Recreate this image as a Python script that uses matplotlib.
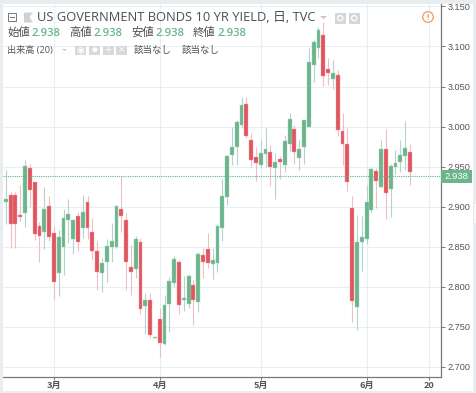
import numpy as np
import matplotlib
matplotlib.use("Agg")
import matplotlib.pyplot as plt
from matplotlib.patches import Rectangle, Circle, Polygon

plt.rcParams['font.family'] = ['Open Sans', 'Noto Sans CJK JP', 'DejaVu Sans']

opens = [2.906, 2.915, 2.915, 2.890, 2.892, 2.948, 2.931, 2.876, 2.868, 2.901,
         2.867, 2.817, 2.850, 2.884, 2.860, 2.889, 2.873, 2.906, 2.869, 2.845,
         2.817, 2.831, 2.850, 2.850, 2.897, 2.884, 2.825, 2.822, 2.856, 2.776,
         2.784, 2.736, 2.760, 2.729, 2.779, 2.805, 2.831, 2.784, 2.779, 2.802,
         2.781, 2.840, 2.847, 2.828, 2.830, 2.873, 2.912, 2.965, 2.975, 3.002,
         3.028, 2.983, 2.962, 2.952, 2.966, 2.968, 2.948, 2.959, 2.952, 2.978,
         2.997, 2.961, 2.975, 3.000, 3.077, 3.098, 3.114, 3.072, 3.060, 3.065,
         2.995, 2.978, 2.899, 2.775, 2.856, 2.860, 2.896, 2.945, 2.924, 2.972,
         2.922, 2.949, 2.956, 2.963, 2.968]
closes = [2.910, 2.878, 2.878, 2.887, 2.951, 2.921, 2.866, 2.864, 2.897, 2.862,
          2.806, 2.862, 2.886, 2.891, 2.884, 2.856, 2.893, 2.874, 2.845, 2.819,
          2.830, 2.851, 2.857, 2.901, 2.889, 2.831, 2.818, 2.860, 2.772, 2.784,
          2.740, 2.738, 2.730, 2.777, 2.807, 2.835, 2.777, 2.786, 2.814, 2.783,
          2.841, 2.831, 2.830, 2.834, 2.876, 2.913, 2.963, 2.975, 3.006, 3.027,
          2.988, 2.958, 2.955, 2.967, 2.972, 2.950, 2.956, 2.956, 2.982, 3.010,
          2.968, 2.972, 3.008, 3.080, 3.105, 3.121, 3.063, 3.067, 3.067, 2.996,
          2.978, 2.931, 2.782, 2.856, 2.862, 2.906, 2.947, 2.932, 2.972, 2.917,
          2.951, 2.954, 2.964, 2.973, 2.943]
highs = [2.946, 2.918, 2.918, 2.927, 2.958, 2.953, 2.931, 2.881, 2.925, 2.914,
         2.876, 2.871, 2.897, 2.910, 2.885, 2.893, 2.915, 2.913, 2.886, 2.857,
         2.836, 2.860, 2.880, 2.902, 2.938, 2.892, 2.852, 2.863, 2.861, 2.792,
         2.792, 2.738, 2.773, 2.790, 2.812, 2.839, 2.833, 2.813, 2.816, 2.809,
         2.844, 2.849, 2.867, 2.849, 2.878, 2.935, 2.965, 3.000, 3.008, 3.037,
         3.037, 2.992, 2.974, 2.983, 2.998, 2.977, 2.967, 2.963, 2.990, 3.017,
         3.002, 2.983, 3.008, 3.098, 3.108, 3.124, 3.131, 3.085, 3.083, 3.071,
         3.017, 2.998, 2.913, 2.890, 2.888, 2.927, 2.950, 2.948, 2.983, 2.997,
         2.953, 2.971, 2.983, 3.007, 2.978]
lows = [2.879, 2.848, 2.848, 2.882, 2.875, 2.900, 2.859, 2.831, 2.847, 2.857,
        2.784, 2.789, 2.815, 2.855, 2.841, 2.845, 2.861, 2.860, 2.834, 2.796,
        2.793, 2.806, 2.831, 2.848, 2.868, 2.796, 2.790, 2.811, 2.766, 2.741,
        2.736, 2.736, 2.713, 2.727, 2.744, 2.800, 2.766, 2.770, 2.774, 2.752,
        2.768, 2.811, 2.823, 2.810, 2.819, 2.857, 2.902, 2.952, 2.952, 2.998,
        2.986, 2.950, 2.932, 2.948, 2.950, 2.926, 2.910, 2.935, 2.943, 2.969,
        2.953, 2.946, 2.953, 3.000, 3.056, 3.085, 3.051, 3.052, 3.047, 2.988,
        2.952, 2.920, 2.756, 2.746, 2.820, 2.854, 2.893, 2.898, 2.923, 2.885,
        2.887, 2.941, 2.943, 2.946, 2.927]

month_pos = [10, 32, 53, 75, 88]
month_labels = ['3月', '4月', '5月', '6月', '20']
price_ticks = [2.70, 2.75, 2.80, 2.85, 2.90, 2.95, 3.00, 3.05, 3.10, 3.15]
last_price = 2.938

UP = '#6bb58c'
DOWN = '#e0565f'
UP_WICK = '#b5d3d0'
DOWN_WICK = '#f2bcc3'
GRID = '#e8eff4'
AXCOL = '#77787a'
TXT = '#555555'

fig = plt.figure(figsize=(4.76, 3.93), dpi=100, facecolor='white')
W, H = 476, 393

# main panel
ax = fig.add_axes([3 / W, 1 - 377 / H, 438 / W, 373 / H])
ax.set_xlim(-0.58, 90.47)
ax.set_ylim(2.6875, 3.153)
ax.yaxis.tick_right()
ax.set_yticks(price_ticks)
ax.set_yticklabels(['%.3f' % p for p in price_ticks], fontsize=6.6, color=TXT,
                   family=['Liberation Sans'])
ax.set_xticks(month_pos)
ax.set_xticklabels(month_labels, fontsize=6.6, color=TXT, fontweight='bold',
                   family=['Noto Sans CJK JP'])
ax.tick_params(axis='y', length=3, width=0.7, color=AXCOL, pad=2)
ax.tick_params(axis='x', length=2, width=0.7, color=AXCOL, pad=1)
ax.grid(True, color=GRID, lw=0.8)
ax.set_axisbelow(True)
for s in ['top', 'left']:
    ax.spines[s].set_visible(False)
for s in ['right', 'bottom']:
    ax.spines[s].set_color(AXCOL)
    ax.spines[s].set_linewidth(0.9)

x = np.arange(len(opens))
o = np.array(opens)
c = np.array(closes)
up = c >= o
ax.vlines(x[up], np.array(lows)[up], np.array(highs)[up], color=UP_WICK, lw=0.8, zorder=2)
ax.vlines(x[~up], np.array(lows)[~up], np.array(highs)[~up], color=DOWN_WICK, lw=0.8, zorder=2)
bott = np.minimum(o, c)
hgt = np.maximum(np.abs(c - o), 0.001)
ax.bar(x[up], hgt[up], bottom=bott[up], width=0.8, color=UP, edgecolor='#a6d2ba', lw=0.3, zorder=3)
ax.bar(x[~up], hgt[~up], bottom=bott[~up], width=0.8, color=DOWN, edgecolor='#eea3a9', lw=0.3, zorder=3)
ax.axhline(last_price, color='#62b489', lw=0.8, ls=(0, (1, 1)), zorder=4)

# overlay in pixels for the toolbar and legend
ov = fig.add_axes([0, 0, 1, 1], facecolor='none')
ov.set_xlim(0, W)
ov.set_ylim(H, 0)
ov.axis('off')

STRIP = '#e9edf0'
ov.add_patch(Rectangle((0, 0), 3, H, color=STRIP, lw=0))
ov.add_patch(Rectangle((0, 0), W, 3.5, color=STRIP, lw=0))
ov.add_patch(Rectangle((0, 391), W, 2, color=STRIP, lw=0))
ov.add_patch(Rectangle((472.5, 0), 3.5, H, color=STRIP, lw=0))
ov.add_patch(Rectangle((472.5, 203), 3.5, 20, fc='#f7f8f9', ec='#e3e6e9', lw=0.5))

# last price tag
ov.add_patch(Rectangle((441, 170), 31, 13, color='#6bb58c', lw=0))
ov.text(456.5, 176.5, '2.938', color='white', fontsize=6.8, ha='center', va='center',
        family=['Liberation Sans'])

# title row
ov.add_patch(Rectangle((7.5, 12.5), 8.5, 8.5, fc='none', ec='#777777', lw=0.7))
ov.plot([9.5, 14], [16.8, 16.8], color='#777777', lw=0.7)
ov.add_patch(Polygon([(24, 12.5), (33, 12.5), (29.5, 17), (33, 22.5), (24, 22.5)], color='#cfd1d3', lw=0))
ov.text(37, 17.8, 'US GOVERNMENT BONDS 10 YR YIELD, 日, TVC', fontsize=9.3, color='#4e4e4e',
        va='center', ha='left')
ov.add_patch(Polygon([(320, 16), (327, 16), (323.5, 19)], color='#c4c6c8', lw=0))
for bx in [335, 349]:
    ov.add_patch(Rectangle((bx, 13), 10.5, 10.5, color='#d5d6d8', lw=0))
    ov.add_patch(Circle((bx + 5.2, 18.2), 2.6, fc='none', ec='white', lw=0.9))
ov.add_patch(Circle((428, 17), 5.3, fc='white', ec='#f0a36b', lw=1))
ov.text(428, 17, '!', color='#f0a36b', fontsize=6.5, ha='center', va='center', fontweight='bold')

# OHLC row
ohlc_names = ['始値', '高値', '安値', '終値']
ohlc_x = [7, 69, 131, 193]
for name, px in zip(ohlc_names, ohlc_x):
    ov.text(px, 33.5, name, fontsize=8.2, color='#4e4e4e', va='center', ha='left')
    ov.text(px + 25, 33.5, '2.938', fontsize=8.2, color='#6bb58c', va='center', ha='left',
            fontweight='semibold')

# volume row
ov.text(7, 50, '出来高 (20)', fontsize=6.6, color='#555555', va='center', ha='left')
ov.add_patch(Polygon([(62, 49), (67, 49), (64.5, 51)], color='#c8cacc', lw=0))
for bx, g in zip([75, 89, 102.5, 116], ['◉', '✹', '+', '×']):
    ov.add_patch(Rectangle((bx, 45.5), 11, 9.5, color='#d8d9db', lw=0))
    ov.text(bx + 5.5, 50, g, color='white', fontsize=6.5, ha='center', va='center', family=['DejaVu Sans'])
ov.text(134, 50, '該当なし', fontsize=6.8, color='#555555', va='center', ha='left')
ov.text(182, 50, '該当なし', fontsize=6.8, color='#555555', va='center', ha='left')

fig.savefig('out.png', dpi=100)
